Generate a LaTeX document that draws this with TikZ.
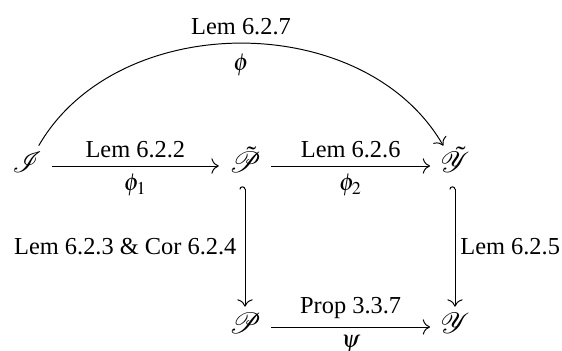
\documentclass[tikz,border=0pt]{standalone}
\usepackage{mathptmx}
\usepackage{mathrsfs}
\usepackage{fontspec}
\setmainfont{Liberation Serif}
\usetikzlibrary{arrows.meta}

\begin{document}
\begin{tikzpicture}[x=0.41pt, y=0.41pt,
    obj/.style={font=\large, inner sep=4pt, text height=1.5ex, text depth=0.3ex},
    map/.style={line width=0.4pt, -{To[length=3pt]}},
    incl/.style={line width=0.4pt, {Hooks[left]}-{To[length=3pt]}}]
  \useasboundingbox (0,0) rectangle (562,351);
  % objects
  \node[obj] (I)  at (27,185)  {$\mathscr{I}$};
  \node[obj] (Pt) at (245,185) {$\tilde{\mathscr{P}}$};
  \node[obj] (Yt) at (455,185) {$\tilde{\mathscr{Y}}$};
  \node[obj] (P)  at (245,24)  {$\mathscr{P}$};
  \node[obj] (Y)  at (455,24)  {$\mathscr{Y}$};
  % maps
  \draw[map] (I) to[out=60, in=120]
    node[above] {Lem 6.2.7} node[below=1pt] {$\phi$} (Yt);
  \draw[map] (I) -- node[above] {Lem 6.2.2} node[below] {$\phi_1$} (Pt);
  \draw[map] (Pt) -- node[above] {Lem 6.2.6} node[below] {$\phi_2$} (Yt);
  \draw[map] (P) -- node[above] {Prop 3.3.7} node[below] {$\psi$} (Y);
  \draw[incl] (Pt) -- node[left] {Lem 6.2.3 \& Cor 6.2.4} (P);
  \draw[incl] (Yt) -- node[right, inner sep=2pt] {Lem 6.2.5} (Y);
\end{tikzpicture}
\end{document}
